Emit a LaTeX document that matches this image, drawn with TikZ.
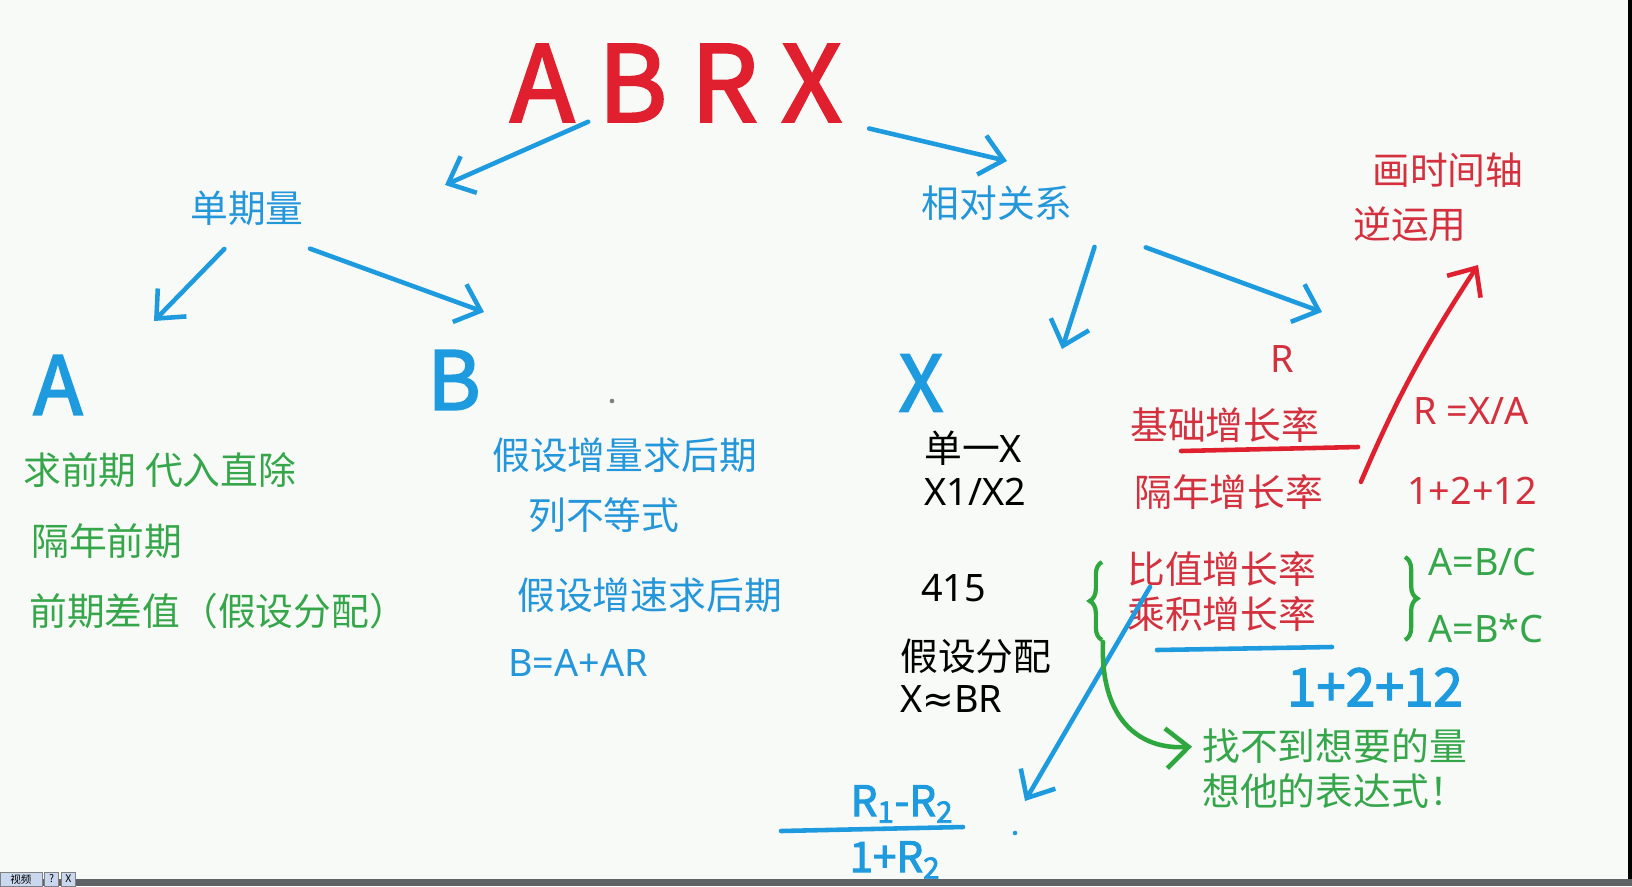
\documentclass[tikz,border=0pt]{standalone}
\usepackage{fontspec}
\setmainfont{Noto Sans CJK SC}
\newfontfamily\handfont[FakeBold=2.5]{Noto Sans CJK SC}
\newfontfamily\lat{Noto Sans}
\newfontfamily\symb{DejaVu Sans}
\usepackage{xcolor}
\usepackage{tikz}
\usetikzlibrary{arrows.meta,decorations.pathreplacing,positioning}

\definecolor{paper}{HTML}{F8FAF8}
\definecolor{penblue}{HTML}{1E9BDF}
\definecolor{penred}{HTML}{E0202E}
\definecolor{pengreen}{HTML}{2EA83E}
\definecolor{txtblue}{HTML}{2496DA}
\definecolor{txtred}{HTML}{D4303E}
\definecolor{txtgreen}{HTML}{36A64A}
\definecolor{bargray}{HTML}{5F6366}
\definecolor{tabblue}{HTML}{C9D8EE}

\begin{document}
\begin{tikzpicture}[
        x=0.02cm, y=-0.02cm,
        txt/.style={anchor=west, inner sep=0pt, font=\fontsize{21.5}{26}\selectfont},
        label/.style={inner sep=0pt, font=\fontsize{21.5}{26}\selectfont},
        hand/.style={inner sep=0pt, font=\handfont\fontsize{#1}{#1}\selectfont},
        arrow/.style={-{Straight Barb[length=4.5mm,width=8mm]}, line width=2.6pt, line cap=round, line join=round},
        stroke/.style={line width=2.6pt, line cap=round},
        brace/.style={decorate, decoration={brace, amplitude=7pt}, draw=pengreen, line width=2.4pt},
        winbtn/.style={fill=tabblue, draw=gray, inner sep=0pt, minimum size=0.28cm, font=\fontsize{6}{6}\selectfont}
    ]
        % paper
        \useasboundingbox (0,0) rectangle (1632,886);
        \fill[paper] (0,0) rectangle (1632,886);
        \fill[black] (1628,0) rectangle (1632,879);

        % Title (hand written)
        \node[hand=60, text=penred] (top) at (676,83) {A B R X};

        % First level
        \node[label, text=txtblue] (dq) at (247,208) {单期量};
        \node[label, text=txtblue] (rel) at (997,203) {相对关系};

        % Second level
        \node[hand=46, text=penblue] (la) at (58,385) {A};
        \node[hand=46, text=penblue] (lb) at (454,380) {B};
        \node[hand=44, text=penblue] (lx) at (921,383) {X};
        \node[label, text=txtred] (lr) at (1282,359) {\lat R};

        % A
        \node[txt, text=txtgreen] (qq) at (23,470) {求前期 代入直除};
        \node[txt, text=txtgreen] (gn) at (31,541) {隔年前期};
        \node[txt, text=txtgreen] (qc) at (29,611) {前期差值（假设分配）};

        % B
        \node[txt, text=txtblue] (zl) at (492,455) {假设增量求后期};
        \node[txt, text=txtblue] (bd) at (528,515) {列不等式};
        \node[txt, text=txtblue] (zs) at (517,595) {假设增速求后期};
        \node[txt, text=txtblue] (bar) at (508,663) {\lat B=A+AR};

        % X
        \node[txt] (dy) at (924,448) {单一{\lat X}};
        \node[txt] (xx) at (924,492) {\lat X1/X2};
        \node[txt] (n415) at (921,588) {\lat 415};
        \node[txt] (fp) at (900,656) {假设分配};
        \node[txt] (xbr) at (900,699) {\lat X{\symb ≈}BR};

        % R
        \node[txt, text=txtred] (jc) at (1130,425) {基础增长率};
        \node[txt, text=txtred] (ng) at (1134,492) {隔年增长率};
        \node[txt, text=txtred] (bz) at (1127,569) {比值增长率};
        \node[txt, text=txtred] (cj) at (1127,614) {乘积增长率};
        \node[txt, text=txtred] (sj) at (1372,170) {画时间轴};
        \node[txt, text=txtred] (ny) at (1353,224) {逆运用};
        \node[txt, text=txtred] (rxa) at (1413,411) {\lat R =X/A};
        \node[txt, text=txtred] (r12) at (1407,491) {\lat 1+2+12};
        \node[txt, text=txtgreen] (abc) at (1428,562) {\lat A=B/C};
        \node[txt, text=txtgreen] (abm) at (1428,628) {\lat A=B*C};
        \node[hand=30, text=penblue] (hb) at (1375,687) {1+2+12};
        \node[txt, text=txtgreen] (zb) at (1202,746) {找不到想要的量};
        \node[txt, text=txtgreen] (zbe) at (1202,791) {想他的表达式！};

        % fraction
        \node[hand=24, text=penblue] (num) at (902,804) {R\textsubscript{1}-R\textsubscript{2}};
        \node[hand=24, text=penblue] (den) at (895,860) {1+R\textsubscript{2}};
        \draw[stroke, penblue] (781,831) -- (963,827);

        % arrow tips
        \coordinate (t1) at (445,185);
        \coordinate (t2) at (1007,161);
        \coordinate (t3) at (154,321);
        \coordinate (t4) at (484,312);
        \coordinate (t5) at (1062,349);
        \coordinate (t6) at (1322,312);
        \coordinate (t7) at (1478,265);
        \coordinate (t8) at (1025,801);
        \coordinate (lbB) at (1103,642);

        % Arrows
        \draw[arrow, penblue, shorten <=1.92cm] (top.center) -- (t1);
        \draw[arrow, penblue, shorten <=3.97cm] (top.center) -- (t2);
        \draw[arrow, penblue, shorten <=0.65cm] (dq.south) -- (t3);
        \draw[arrow, penblue, shorten <=1.34cm] (dq.south) -- (t4);
        \draw[arrow, penblue, shorten <=0.55cm] ([xshift=0.6cm]rel.south east) -- (t5);
        \draw[arrow, penblue, shorten <=1.55cm] (rel.south east) -- (t6);
        \draw[arrow, penred, shorten <=0.22cm] ([xshift=0.66cm]ng.east) to[bend left=5] (t7);
        \draw[arrow, penblue] ([xshift=0.46cm]bz.south west) -- (t8);

        % marks
        \draw[stroke, penred] (1181,451) -- (1358,447);
        \draw[stroke, penblue] (1157,650) -- (1332,647);
        \draw[brace] (1102,640) -- (1102,562);
        \draw[brace] (1405,557) -- (1405,640);
        \draw[arrow, pengreen, shorten >=0.2cm] (lbB) .. controls (1100,720) and (1140,750) .. (zb.west);
        \fill[gray] (612,401) circle (1.3pt);
        \fill[penblue] (1015,833) circle (1.3pt);

        % window bar
        \fill[bargray] (0,879) rectangle (1632,886);
        \node[winbtn, minimum width=0.84cm] (tab) at (21,879) {视频};
        \node[winbtn, right=0.04cm of tab] (help) {?};
        \node[winbtn, right=0.04cm of help] (close) {X};
    \end{tikzpicture}
\end{document}
